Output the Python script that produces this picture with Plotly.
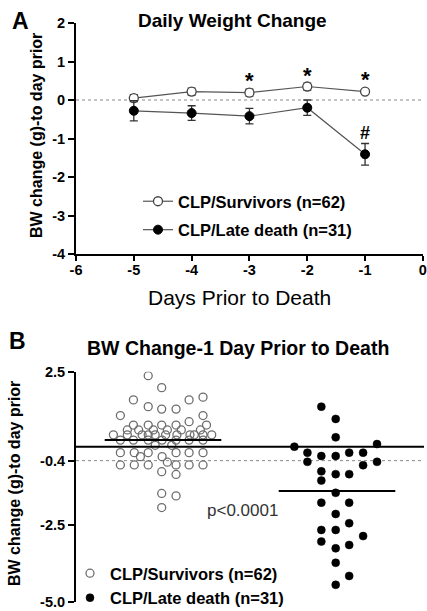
import plotly.graph_objects as go

# ---------------- Panel A data ----------------
days = [-5, -4, -3, -2, -1]
surv_mean = [0.05, 0.22, 0.19, 0.35, 0.22]
surv_err = [0.09, 0.09, 0.09, 0.09, 0.05]
late_mean = [-0.28, -0.34, -0.42, -0.20, -1.41]
late_err = [0.26, 0.19, 0.20, 0.20, 0.28]
star_days = [-3, -2, -1]
star_y = [0.63, 0.77, 0.67]
hash_days = [-1]
hash_y = [-0.84]
a_xticks = [-6, -5, -4, -3, -2, -1, 0]
a_xticklabels = ["-6", "-5", "-4", "-3", "-2", "-1", "0"]
a_yticks = [2, 1, 0, -1, -2, -3, -4]
a_yticklabels = ["2", "1", "0", "-1", "-2", "-3", "-4"]

# ---------------- Panel B data ----------------
surv_vals = [2.37, 1.98, 1.67, 1.58, 1.58, 1.36, 1.28, 1.28, 1.07, 1.07, 0.87,
             0.76, 0.76, 0.76, 0.76, 0.76,
             0.60, 0.60, 0.60, 0.60, 0.60, 0.60,
             0.44, 0.44, 0.44, 0.44, 0.44, 0.44, 0.44, 0.44, 0.44, 0.44, 0.44,
             0.27, 0.27, 0.27, 0.27, 0.27, 0.27, 0.27,
             0.10, 0.10,
             -0.14, -0.14, -0.14, -0.14, -0.14, -0.14,
             -0.27, -0.27, -0.45,
             -0.54, -0.54, -0.54, -0.54, -0.54, -0.54,
             -0.76, -0.85, -1.47, -1.55, -1.93]
surv_x = [0.83, 0.985, 1.46, 0.66, 1.30, 0.83, 0.985, 1.15, 0.51, 1.46, 1.30,
          0.66, 0.83, 0.985, 1.15, 1.50,
          0.59, 0.72, 0.89, 1.05, 1.21, 1.43,
          0.43, 0.59, 0.76, 0.83, 0.91, 1.03, 1.16, 1.31, 1.36, 1.46, 1.56,
          0.51, 0.66, 0.83, 0.99, 1.15, 1.30, 1.46,
          0.91, 1.10,
          0.51, 0.67, 0.83, 1.15, 1.30, 1.46,
          0.74, 0.99, 1.05,
          0.51, 0.67, 0.83, 1.15, 1.30, 1.46,
          0.985, 1.15, 0.985, 1.15, 0.985]
late_vals = [1.36, 0.96, 0.36, 0.055, 0.14, -0.14, -0.25, -0.25, -0.14, -0.14,
             -0.44, -0.55, -0.44, -0.75, -0.84, -0.84, -1.05, -1.45, -1.77, -1.77,
             -2.14, -2.44, -2.66, -2.66, -2.86, -3.04, -3.26, -3.15, -3.73, -4.16, -4.45]
late_x = [2.82, 2.985, 2.985, 2.51, 3.46, 2.66, 2.82, 2.985, 3.14, 3.30,
          2.66, 3.30, 3.46, 2.82, 2.985, 3.14, 2.82, 2.985, 2.82, 3.14,
          2.985, 3.14, 2.82, 2.985, 3.30, 2.82, 2.985, 3.14, 2.985, 3.14, 2.985]
group_centers = [1, 3]
group_means = [0.27, -1.39]
mean_halfwidth = 0.67
ref_solid_y = 0.05
ref_dotted_y = -0.4
b_yticks = [2.5, -0.4, -2.5, -5.0]
b_yticklabels = ["2.5", "-0.4", "-2.5", "-5.0"]
p_text = "p<0.0001"
p_pos = (1.91, -2.04)

FONT = "Liberation Sans, Arial, sans-serif"
W, H = 427, 611


def px(xp):
    return xp / W


def py(yp):
    return 1 - yp / H


fig = go.Figure()

# Panel A traces
fig.add_trace(go.Scatter(
    x=days, y=surv_mean, mode="lines+markers", name="CLP/Survivors (n=62)",
    line=dict(color="#555555", width=1.2),
    marker=dict(symbol="circle", size=9, color="white", line=dict(color="#444444", width=1.3)),
    error_y=dict(type="data", array=surv_err, color="#333333", thickness=1.3, width=4),
    xaxis="x", yaxis="y", legend="legend", legendgroup="a1"))
fig.add_trace(go.Scatter(
    x=days, y=late_mean, mode="lines+markers", name="CLP/Late death (n=31)",
    line=dict(color="#555555", width=1.2),
    marker=dict(symbol="circle", size=9, color="black", line=dict(color="black", width=1)),
    error_y=dict(type="data", array=late_err, color="#333333", thickness=1.3, width=4),
    xaxis="x", yaxis="y", legend="legend", legendgroup="a2"))

# Panel B traces
fig.add_trace(go.Scatter(
    x=surv_x, y=surv_vals, mode="markers", name="CLP/Survivors (n=62)",
    marker=dict(symbol="circle", size=8, color="rgba(255,255,255,0)", line=dict(color="#6e6e6e", width=1.3)),
    xaxis="x2", yaxis="y2", legend="legend2"))
fig.add_trace(go.Scatter(
    x=late_x, y=late_vals, mode="markers", name="CLP/Late death (n=31)",
    marker=dict(symbol="circle", size=8, color="black", line=dict(color="black", width=0.5)),
    xaxis="x2", yaxis="y2", legend="legend2"))

shapes = []
shapes.append(dict(type="line", xref="x", yref="y", x0=-6, x1=0, y0=0, y1=0,
                   line=dict(color="#888888", width=1, dash="dot"), layer="below"))
shapes.append(dict(type="line", xref="x2", yref="y2", x0=0, x1=4, y0=ref_dotted_y, y1=ref_dotted_y,
                   line=dict(color="#888888", width=1, dash="dot"), layer="below"))
shapes.append(dict(type="line", xref="x2", yref="y2", x0=0, x1=4, y0=ref_solid_y, y1=ref_solid_y,
                   line=dict(color="black", width=2)))
for c, m in zip(group_centers, group_means):
    shapes.append(dict(type="line", xref="x2", yref="y2", x0=c - mean_halfwidth, x1=c + mean_halfwidth,
                       y0=m, y1=m, line=dict(color="black", width=2)))

ann = []
for d, yv in zip(star_days, star_y):
    ann.append(dict(x=d, y=yv, xref="x", yref="y", text="*", showarrow=False, yshift=-5,
                    xanchor="center", yanchor="middle",
                    font=dict(family=FONT, size=22, color="black", weight="bold")))
for d, yv in zip(hash_days, hash_y):
    ann.append(dict(x=d, y=yv, xref="x", yref="y", text="#", showarrow=False, yshift=-1,
                    xanchor="center", yanchor="middle",
                    font=dict(family=FONT, size=18, color="black", weight="bold")))
ann.append(dict(x=p_pos[0], y=p_pos[1], xref="x2", yref="y2", text=p_text, showarrow=False,
                xanchor="center", yanchor="middle",
                font=dict(family=FONT, size=17, color="#333333")))


def lab(xp, yp, text, size, bold=True, angle=0):
    f = dict(family=FONT, size=size, color="black")
    if bold:
        f["weight"] = "bold"
    return dict(x=px(xp), y=py(yp), xref="paper", yref="paper", text=text, showarrow=False,
                xanchor="center", yanchor="middle", textangle=angle, font=f)


ann += [
    lab(20, 21, "A", 23),
    lab(232, 20, "Daily Weight Change", 19),
    lab(36, 136, "BW change (g)-to day prior", 16, angle=-90),
    lab(240, 297, "Days Prior to Death", 21, bold=False),
    lab(17, 341, "B", 23),
    lab(238, 348, "BW Change-1 Day Prior to Death", 19.5),
    lab(14, 484, "BW change (g)-to day prior", 16, angle=-90),
]

tickfont = dict(family=FONT, size=14.5, color="black", weight="bold")
axis_common = dict(showgrid=False, zeroline=False, showline=True, linecolor="black", linewidth=2,
                   ticks="outside", tickwidth=2, tickcolor="black", tickfont=tickfont,
                   automargin=False, ticklabeloverflow="allow")

fig.update_layout(
    width=W, height=H, margin=dict(l=0, r=0, t=0, b=0, autoexpand=False),
    paper_bgcolor="white", plot_bgcolor="white",
    showlegend=True,
    xaxis=dict(domain=[px(76), px(423)], range=[-6, 0.002], tickvals=a_xticks, ticktext=a_xticklabels,
               anchor="y", ticklen=5, ticklabelstandoff=-3, **axis_common),
    yaxis=dict(domain=[py(254), py(23)], range=[-4, 2], tickvals=a_yticks, ticktext=a_yticklabels,
               anchor="x", ticklen=6, **axis_common),
    xaxis2=dict(domain=[px(76), px(424)], range=[0, 4], visible=False, anchor="y2"),
    yaxis2=dict(domain=[py(601.7), py(371.7)], range=[-5.0, 2.5], tickvals=b_yticks,
                ticktext=b_yticklabels, anchor="x2", ticklen=6, **axis_common),
    legend=dict(x=px(138), y=py(184), xanchor="left", yanchor="top", bgcolor="rgba(0,0,0,0)",
                font=dict(family=FONT, size=16.5, color="black", weight="bold"), tracegroupgap=4),
    legend2=dict(x=px(70), y=py(556), xanchor="left", yanchor="top", bgcolor="rgba(0,0,0,0)",
                 font=dict(family=FONT, size=16.5, color="black", weight="bold"), tracegroupgap=0),
    shapes=shapes, annotations=ann,
)

fig.write_html("out.html", config={"displayModeBar": False},
               post_script="document.body.style.margin='0';document.body.style.overflow='hidden';")
